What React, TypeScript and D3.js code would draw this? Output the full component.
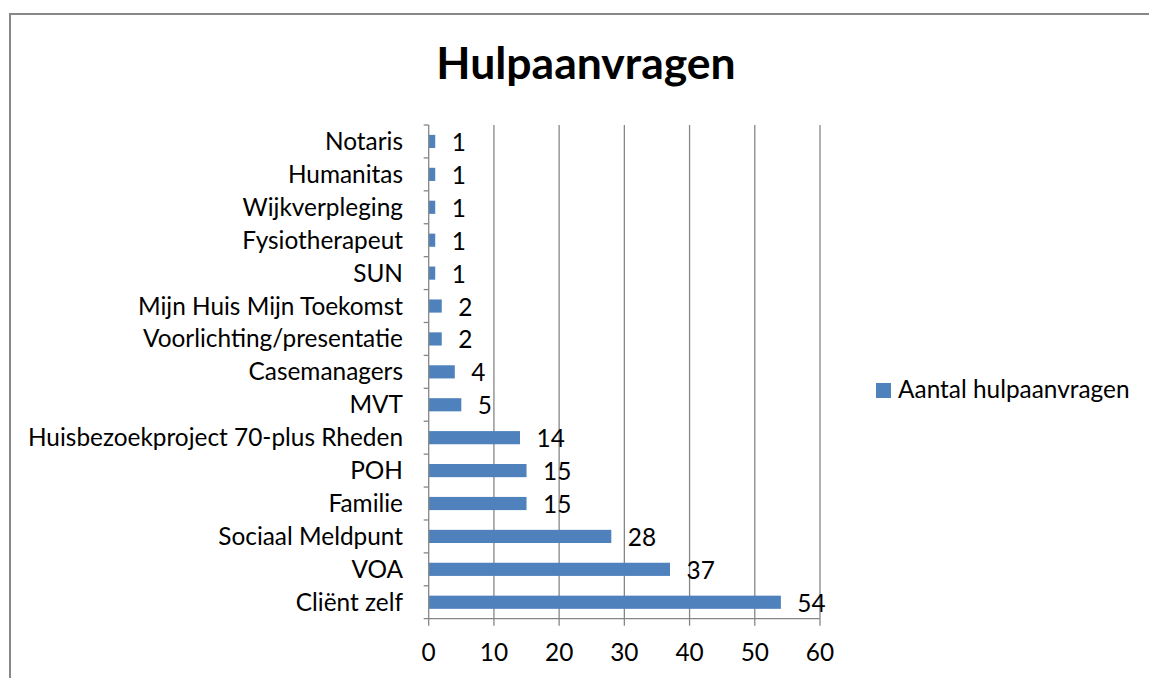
import React from "react";
import * as d3 from "d3";

const categories = [
  "Notaris",
  "Humanitas",
  "Wijkverpleging",
  "Fysiotherapeut",
  "SUN",
  "Mijn Huis Mijn Toekomst",
  "Voorlichting/presentatie",
  "Casemanagers",
  "MVT",
  "Huisbezoekproject 70-plus Rheden",
  "POH",
  "Familie",
  "Sociaal Meldpunt",
  "VOA",
  "Cliënt zelf",
];
const values = [1, 1, 1, 1, 1, 2, 2, 4, 5, 14, 15, 15, 28, 37, 54];
const xTicks = [0, 10, 20, 30, 40, 50, 60];
const title = "Hulpaanvragen";
const seriesName = "Aantal hulpaanvragen";

const W = 1149;
const H = 678;
const FONT = "Lato, Carlito, Calibri, sans-serif";
const BAR = "#4F81BD";
const GRID = "#868686";
const FS = 24.4;

export default function App() {
  const left = 428.7;
  const right = 820;
  const top = 125;
  const bottom = 618.7;
  const x = d3.scaleLinear().domain([0, 60]).range([left, right]);
  const y = d3.scaleBand<string>().domain(categories).range([top, bottom]).paddingInner(0.6).paddingOuter(0.3);
  const yb = d3.scaleBand<string>().domain(categories).range([top, bottom]);
  const step = yb.step();

  return (
    <svg
      width={W}
      height={H}
      style={{ position: "absolute", left: 0, top: 0, display: "block", background: "#fff" }}
    >
      <rect x={0} y={0} width={W} height={H} fill="#fff" />
      <line x1={10} y1={14} x2={W + 5} y2={14} stroke="#888" strokeWidth={2} />
      <line x1={10} y1={13} x2={10} y2={H + 5} stroke="#888" strokeWidth={2} />

      <text
        x={586}
        y={78.5}
        textAnchor="middle"
        fontFamily={FONT}
        fontWeight="bold"
        fontSize={44.5}
        fill="#000"
      >
        {title}
      </text>

      {/* gridlines */}
      {xTicks.slice(1).map((t) => (
        <line key={"g" + t} x1={x(t)} x2={x(t)} y1={top} y2={bottom} stroke={GRID} strokeWidth={1.3} />
      ))}

      {/* bars */}
      {categories.map((c, i) => (
        <rect
          key={"b" + c}
          x={x(0)}
          y={y(c)!}
          width={x(values[i]) - x(0)}
          height={y.bandwidth()}
          fill={BAR}
        />
      ))}

      {/* axes */}
      <line x1={left} x2={left} y1={top} y2={bottom} stroke={GRID} strokeWidth={1.3} />
      <line x1={left - 5} x2={right} y1={bottom} y2={bottom} stroke={GRID} strokeWidth={1.3} />
      {categories.map((c, i) => (
        <line key={"yt" + i} x1={left - 5} x2={left} y1={yb(c)!} y2={yb(c)!} stroke={GRID} strokeWidth={1.3} />
      ))}
      {xTicks.map((t) => (
        <line key={"xt" + t} x1={x(t)} x2={x(t)} y1={bottom} y2={bottom + 7} stroke={GRID} strokeWidth={1.3} />
      ))}

      {/* tick labels */}
      {xTicks.map((t) => (
        <text
          key={"xl" + t}
          x={x(t)}
          y={661}
          textAnchor="middle"
          fontFamily={FONT}
          fontSize={FS}
          fill="#000"
        >
          {t}
        </text>
      ))}
      {categories.map((c) => (
        <text
          key={"yl" + c}
          x={403}
          y={yb(c)! + step / 2 + 8.5}
          textAnchor="end"
          fontFamily={FONT}
          fontSize={FS}
          fill="#000"
        >
          {c}
        </text>
      ))}

      {/* value labels */}
      {categories.map((c, i) => (
        <text
          key={"vl" + c}
          x={x(values[i]) + 16.5}
          y={yb(c)! + step / 2 + 9.5}
          textAnchor="start"
          fontFamily={FONT}
          fontSize={FS}
          fill="#000"
        >
          {values[i]}
        </text>
      ))}

      {/* legend */}
      <rect x={876} y={383} width={15} height={15} fill={BAR} />
      <text x={898} y={398} fontFamily={FONT} fontSize={FS} fill="#000">
        {seriesName}
      </text>
    </svg>
  );
}
